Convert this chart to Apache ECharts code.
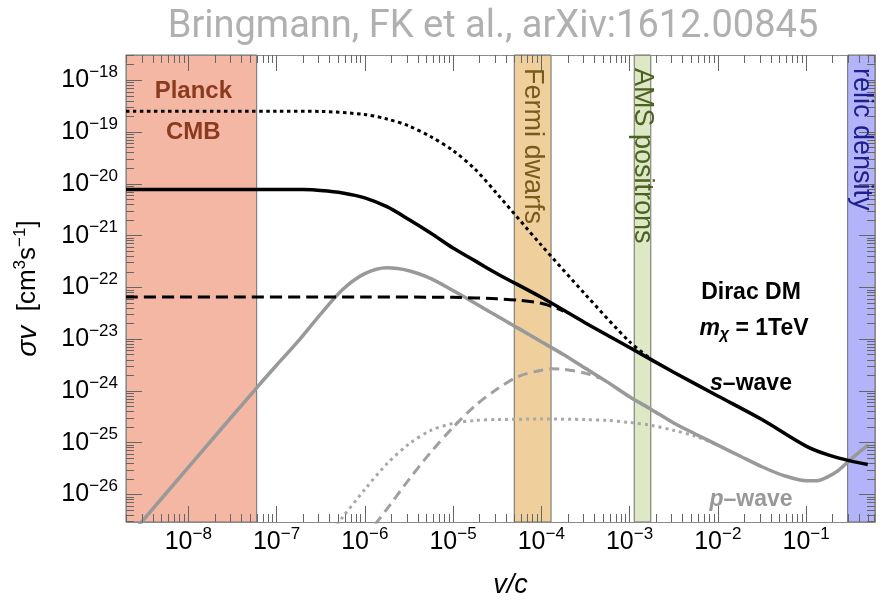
<!DOCTYPE html>
<html><head><meta charset="utf-8">
<script src="https://cdn.jsdelivr.net/npm/echarts@6/dist/echarts.min.js"></script>
<style>html,body{margin:0;padding:0;background:#fff}#c{width:886px;height:604px}</style>
</head><body><div id="c"></div><script>
// ---------- data ----------
const xMajorTicks = [1e-8, 1e-7, 1e-6, 1e-5, 1e-4, 1e-3, 1e-2, 1e-1];
const yMajorTicks = [1e-26, 1e-25, 1e-24, 1e-23, 1e-22, 1e-21, 1e-20, 1e-19, 1e-18];
const minorMultipliers = [2, 3, 4, 5, 6, 7, 8, 9];
const X_MIN = 1.97e-9, X_MAX = 0.604;
const Y_MIN = 2.94e-27, Y_MAX = 3.08e-18;

// s-wave: total (solid), dotted, dashed
const sWaveSolidV = [1.97e-9, 1e-8, 1e-7, 2e-7, 3.16e-7, 5.62e-7, 1e-6, 1.78e-6, 3.16e-6, 5.62e-6, 1e-5, 1.78e-5, 3.16e-5, 1e-4, 3.16e-4, 1e-3, 3.16e-3, 1e-2, 3.16e-2, 0.1, 0.178, 0.316, 0.5];
const sWaveSolidSigma = [7.8e-21, 7.8e-21, 7.8e-21, 7.75e-21, 7.46e-21, 6.68e-21, 5.37e-21, 3.62e-21, 2.05e-21, 1.11e-21, 5.74e-22, 3.25e-22, 1.84e-22, 6.43e-23, 2.06e-23, 6.9e-24, 2.3e-24, 8.0e-25, 2.8e-25, 8.6e-26, 5.8e-26, 4.45e-26, 3.8e-26];
const sWaveDottedV = [1.97e-9, 1e-8, 1e-7, 3.16e-7, 1e-6, 1.78e-6, 3.16e-6, 5.62e-6, 1e-5, 1.78e-5, 3.16e-5, 1e-4, 3.16e-4, 1e-3, 1.78e-3];
const sWaveDottedSigma = [2.53e-19, 2.53e-19, 2.53e-19, 2.5e-19, 2.18e-19, 1.79e-19, 1.31e-19, 8.1e-20, 4.4e-20, 1.91e-20, 6.4e-21, 6.55e-22, 7.3e-23, 8.9e-24, 4.06e-24];
const sWaveDashedV = [1.97e-9, 1e-8, 1e-6, 1e-5, 3.16e-5, 5.62e-5, 1e-4, 1.33e-4, 1.78e-4];
const sWaveDashedSigma = [6.5e-23, 6.5e-23, 6.5e-23, 6.43e-23, 6.0e-23, 5.63e-23, 4.94e-23, 4.24e-23, 3.48e-23];

// p-wave: total (solid), dashed, dotted
const pWaveSolidV = [2.5e-9, 1e-8, 5.96e-8, 1e-7, 1.78e-7, 3.16e-7, 5.62e-7, 1e-6, 1.78e-6, 3.16e-6, 5.62e-6, 1e-5, 1.78e-5, 3.16e-5, 5.62e-5, 1e-4, 1.78e-4, 3.16e-4, 5.62e-4, 1e-3, 1.78e-3, 3.16e-3, 5.62e-3, 1e-2, 1.78e-2, 3.16e-2, 5.62e-2, 0.1, 0.133, 0.178, 0.237, 0.316, 0.5];
const pWaveSolidSigma = [2.1e-27, 3.35e-26, 1.15e-24, 3.13e-24, 9.35e-24, 3.05e-23, 9.1e-23, 1.84e-22, 2.39e-22, 2.1e-22, 1.48e-22, 8.7e-23, 4.94e-23, 2.79e-23, 1.58e-23, 8.9e-24, 5.05e-24, 2.73e-24, 1.48e-24, 7.7e-25, 4.35e-25, 2.41e-25, 1.46e-25, 8.97e-26, 5.54e-26, 3.43e-26, 2.31e-26, 1.85e-26, 1.85e-26, 2.21e-26, 3.0e-26, 4.66e-26, 8.97e-26];
const pWaveDashedV = [1.3e-6, 1.78e-6, 3.16e-6, 5.62e-6, 1e-5, 1.78e-5, 3.16e-5, 5.62e-5, 1e-4, 1.33e-4, 1.78e-4, 3.16e-4, 4.62e-4];
const pWaveDashedSigma = [2.6e-27, 5.2e-27, 1.94e-26, 6.6e-26, 1.98e-25, 5.19e-25, 1.09e-24, 1.93e-24, 2.51e-24, 2.68e-24, 2.62e-24, 2.2e-24, 1.77e-24];
const pWaveDottedV = [4.8e-7, 5.62e-7, 1e-6, 1.78e-6, 3.16e-6, 5.62e-6, 1e-5, 1.78e-5, 3.16e-5, 1e-4, 3.16e-4, 5.62e-4, 1e-3, 1.78e-3, 3.16e-3, 5.62e-3, 1e-2];
const pWaveDottedSigma = [2.6e-27, 3.66e-27, 1.25e-26, 3.91e-26, 9.38e-26, 1.73e-25, 2.36e-25, 2.69e-25, 2.8e-25, 2.87e-25, 2.8e-25, 2.69e-25, 2.46e-25, 2.16e-25, 1.73e-25, 1.33e-25, 8.97e-26];

// constraint bands (v/c ranges)
const bandLabels = ['Planck CMB', 'Fermi dwarfs', 'AMS positrons', 'relic density'];
const bandLow = [X_MIN, 4.94e-5, 1.13e-3, 0.296];
const bandHigh = [5.96e-8, 1.29e-4, 1.74e-3, X_MAX];

// ---------- styling ----------
const FONT = '"Liberation Sans", Arial, sans-serif';
const bandFill = ['#f4b7a3', '#efd09c', '#dfe8c4', '#b3b3f9'];
const bandText = ['#8b3a1f', '#7a5a1b', '#4a6222', '#1e1e8c'];

function minorTicks(lo, hi) {
  const out = [];
  for (let e = Math.floor(Math.log10(lo)) - 1; e <= Math.ceil(Math.log10(hi)); e++) {
    minorMultipliers.forEach(m => { const v = m * Math.pow(10, e); if (v > lo && v < hi) out.push(v); });
  }
  return out;
}
const xMinor = minorTicks(X_MIN, X_MAX);
const yMinor = minorTicks(Y_MIN, Y_MAX);

function supLabel(v) {
  const e = Math.round(Math.log10(v));
  return '{b|10}{s|' + (e < 0 ? '\u2212' : '') + Math.abs(e) + '}';
}
const labelRich = {
  b: { fontFamily: FONT, fontSize: 25, lineHeight: 32, color: '#000', verticalAlign: 'middle' },
  s: { fontFamily: FONT, fontSize: 17, lineHeight: 16, padding: [0, 0, 16, 0], color: '#000', verticalAlign: 'middle' }
};

function mkAxis(kind, pos, ticks, len, major) {
  return {
    type: 'log', logBase: 10, position: pos, z: 5,
    min: kind === 'x' ? X_MIN : Y_MIN, max: kind === 'x' ? X_MAX : Y_MAX,
    axisLine: { show: major, onZero: false, lineStyle: { color: '#8a8a8a', width: 1 } },
    axisTick: { show: true, inside: true, length: len, customValues: ticks, lineStyle: { color: '#666', width: 1 } },
    axisLabel: { show: false },
    splitLine: { show: false }, minorTick: { show: false }, minorSplitLine: { show: false }
  };
}
const xAxes = [
  mkAxis('x', 'bottom', xMajorTicks, 16, true),
  mkAxis('x', 'bottom', xMinor, 8, false),
  mkAxis('x', 'top', xMajorTicks, 16, true),
  mkAxis('x', 'top', xMinor, 8, false)
];
xAxes[0].axisLabel = { show: true, customValues: xMajorTicks, formatter: supLabel, rich: labelRich, margin: 4 };
xAxes[0].name = 'v/c';
xAxes[0].nameLocation = 'middle';
xAxes[0].nameGap = 50;
xAxes[0].nameTextStyle = { fontFamily: FONT, fontSize: 27, fontStyle: 'italic', color: '#000', padding: [0, 0, 0, 20] };

const yAxes = [
  mkAxis('y', 'left', yMajorTicks, 16, true),
  mkAxis('y', 'left', yMinor, 8, false),
  mkAxis('y', 'right', yMajorTicks, 16, true),
  mkAxis('y', 'right', yMinor, 8, false)
];
yAxes[0].axisLabel = { show: true, customValues: yMajorTicks, formatter: supLabel, rich: labelRich, margin: 8 };
yAxes[0].name = '{i|\u03c3v}  {r|[cm}{s|3}{r|s}{s|\u22121}{r|]}';
yAxes[0].nameLocation = 'middle';
yAxes[0].nameRotate = 90;
yAxes[0].nameGap = 82;
yAxes[0].nameTextStyle = {
  fontFamily: FONT, fontSize: 26, color: '#000',
  rich: {
    i: { fontFamily: FONT, fontSize: 28, fontStyle: 'italic', lineHeight: 32, color: '#000', verticalAlign: 'middle' },
    r: { fontFamily: FONT, fontSize: 26, lineHeight: 32, color: '#000', verticalAlign: 'middle' },
    s: { fontFamily: FONT, fontSize: 17, lineHeight: 16, padding: [0, 0, 16, 0], color: '#000', verticalAlign: 'middle' }
  }
};

function zip(xs, ys) { return xs.map((x, i) => [x, ys[i]]); }
function curve(name, xs, ys, color, width, type, z) {
  return {
    name, type: 'line', xAxisIndex: 0, yAxisIndex: 0, data: zip(xs, ys),
    showSymbol: false, symbol: 'none', smooth: 0.3, clip: true, z,
    lineStyle: { color, width, type, cap: 'butt' }, silent: true, animation: false
  };
}

const bandSeries = {
  type: 'line', xAxisIndex: 0, yAxisIndex: 0, data: [], z: 1, silent: true, animation: false,
  markArea: {
    silent: true,
    data: bandLabels.map((lab, i) => [
      { xAxis: bandLow[i], itemStyle: { color: bandFill[i], borderColor: '#6e6e6e', borderWidth: 1 } },
      { xAxis: bandHigh[i] }
    ])
  }
};

const chart = echarts.init(document.getElementById('c'), null, { renderer: 'canvas' });
chart.setOption({
  animation: false,
  backgroundColor: '#fff',
  grid: { left: 126, top: 55, width: 749, height: 474, containLabel: false },
  xAxis: xAxes,
  yAxis: yAxes,
  series: [
    bandSeries,
    curve('p-wave dotted', pWaveDottedV, pWaveDottedSigma, '#a8a8a8', 3, [3, 4], 3),
    curve('p-wave dashed', pWaveDashedV, pWaveDashedSigma, '#a0a0a0', 3, [10, 6], 3),
    curve('p-wave', pWaveSolidV, pWaveSolidSigma, '#999999', 3.5, 'solid', 4),
    curve('s-wave dotted', sWaveDottedV, sWaveDottedSigma, '#000', 3, [3.5, 3.5], 5),
    curve('s-wave dashed', sWaveDashedV, sWaveDashedSigma, '#000', 3, [12, 6], 5),
    curve('s-wave', sWaveSolidV, sWaveSolidSigma, '#000', 3.5, 'solid', 6)
  ]
});

// ---------- annotations ----------
function px(v) { return chart.convertToPixel({ xAxisIndex: 0 }, v); }
function bandCenter(i) { return px(Math.sqrt(bandLow[i] * bandHigh[i])); }
const topY = 68;
const graphics = [
  { type: 'text', x: 493, y: 27, z: 10, style: { text: 'Bringmann, FK et al., arXiv:1612.00845', fontFamily: 'Roboto', fontSize: 38, fill: '#b0b0b0', align: 'center', verticalAlign: 'middle' } },
  { type: 'text', x: bandCenter(0) + 2, y: 91, z: 10, style: { text: 'Planck', fontFamily: FONT, fontSize: 24, fontWeight: 'bold', fill: bandText[0], align: 'center', verticalAlign: 'middle' } },
  { type: 'text', x: bandCenter(0) + 2, y: 132, z: 10, style: { text: 'CMB', fontFamily: FONT, fontSize: 24, fontWeight: 'bold', fill: bandText[0], align: 'center', verticalAlign: 'middle' } }
];
[1, 2, 3].forEach(i => {
  graphics.push({ type: 'text', x: bandCenter(i), y: topY, rotation: -Math.PI / 2, z: 10,
    style: { text: bandLabels[i], fontFamily: FONT, fontSize: 27, fill: bandText[i], align: 'left', verticalAlign: 'middle' } });
});
const boldRich = (col) => ({
  r: { fontFamily: FONT, fontSize: 23, fontWeight: 'bold', fill: col, lineHeight: 28, verticalAlign: 'middle' },
  i: { fontFamily: FONT, fontSize: 23, fontWeight: 'bold', fontStyle: 'italic', fill: col, lineHeight: 28, verticalAlign: 'middle' },
  sub: { fontFamily: FONT, fontSize: 16, fontWeight: 'bold', fontStyle: 'italic', fill: col, lineHeight: 16, padding: [12, 0, 0, 0], verticalAlign: 'middle' }
});
graphics.push(
  { type: 'text', x: 751, y: 293, z: 10, style: { text: '{r|Dirac DM}', rich: boldRich('#000'), fill: '#000', align: 'center', verticalAlign: 'middle' } },
  { type: 'text', x: 754, y: 329, z: 10, style: { text: '{i|m}{sub|\u03c7}{r| = 1TeV}', rich: boldRich('#000'), fill: '#000', align: 'center', verticalAlign: 'middle' } },
  { type: 'text', x: 751, y: 384, z: 10, style: { text: '{i|s}{r|\u2013wave}', rich: boldRich('#000'), fill: '#000', align: 'center', verticalAlign: 'middle' } },
  { type: 'text', x: 751, y: 500, z: 10, style: { text: '{i|p}{r|\u2013wave}', rich: boldRich('#999999'), fill: '#999999', align: 'center', verticalAlign: 'middle' } }
);
chart.setOption({ graphic: graphics });
</script></body></html>
